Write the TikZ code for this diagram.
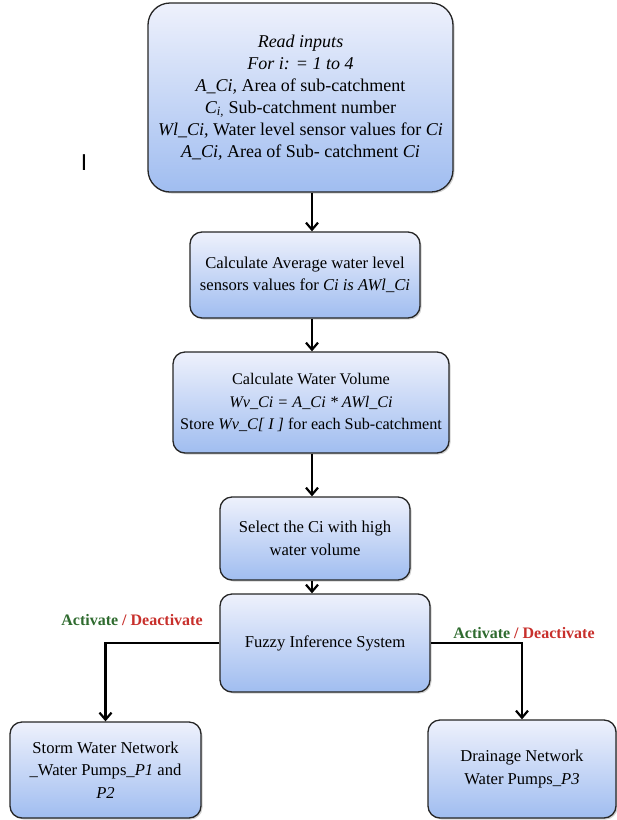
\documentclass[tikz,border=0pt]{standalone}
\usepackage{fontspec}
\setmainfont{Liberation Serif}
\newfontfamily\markfont{Liberation Sans}
\usetikzlibrary{arrows.meta,shadows}
\definecolor{topc}{HTML}{EEF1FC}
\definecolor{botc}{HTML}{A0BDF0}
\definecolor{actgreen}{HTML}{2F6B2F}
\definecolor{deactred}{HTML}{C8302C}
\tikzset{
  flowbox/.style={draw=black!85, line width=1.3pt, rounded corners=12pt,
    top color=topc, bottom color=botc, align=center, inner sep=0pt,
    font=\fontsize{16.6}{22.5}\selectfont,
    drop shadow={shadow xshift=1.5pt, shadow yshift=-1.5pt, opacity=0.3, fill=black!60}},
  arr/.style={draw=black, line width=2.2pt, -{Straight Barb[length=7pt,width=12pt,line width=2.2pt]}},
  actlabel/.style={font=\fontsize{16}{18}\selectfont\bfseries, inner sep=0pt},
}
\begin{document}
\begin{tikzpicture}[x=1pt,y=-1pt]
\useasboundingbox (0,0) rectangle (617,820);

\node[flowbox, rounded corners=22pt, minimum width=305pt, minimum height=189pt,
      font=\fontsize{18}{22}\selectfont] (read) at (300.5,97.5)
  {\textit{Read inputs}\\
   \textit{For i: = 1 to 4}\\
   \textit{A\_Ci,} Area of sub-catchment\\
   \textit{C\textsubscript{i,}} Sub-catchment number\\
   \textit{Wl\_Ci,} Water level sensor values for \textit{Ci}\\
   \textit{A\_Ci,} Area of Sub- catchment \textit{Ci}};

\node[flowbox, minimum width=230pt, minimum height=86pt] (avg) at (305,275)
  {Calculate Average water level\\
   sensors values for \textit{Ci is AWl\_Ci}};

\node[flowbox, minimum width=276pt, minimum height=101pt,
      font=\fontsize{16.2}{22.5}\selectfont] (vol) at (311,402.5)
  {Calculate Water Volume\\
   \textit{Wv\_Ci = A\_Ci * AWl\_Ci}\\
   Store \textit{Wv\_C[ I ]} for each Sub-catchment};

\node[flowbox, minimum width=190pt, minimum height=83pt] (sel) at (315,538.5)
  {Select the Ci with high\\ water volume};

\node[flowbox, minimum width=210pt, minimum height=98pt] (fis) at (325,643)
  {Fuzzy Inference System};

\node[flowbox, minimum width=191pt, minimum height=96pt] (storm) at (105.5,770)
  {Storm Water Network\\ \_Water Pumps\_\textit{P1} and\\ \textit{P2}};

\node[flowbox, minimum width=188pt, minimum height=98pt] (drain) at (522,769)
  {Drainage Network\\ Water Pumps\_\textit{P3}};

\coordinate (ax) at (312,0);
\draw[arr] (read.south -| ax) -- (avg.north -| ax);
\draw[arr] (avg.south -| ax) -- (vol.north -| ax);
\draw[arr] (vol.south -| ax) -- (sel.north -| ax);
\draw[arr] (sel.south -| ax) -- (fis.north -| ax);
\draw[arr] (fis.west) -| (storm.north);
\draw[arr] (fis.east) -| (drain.north);

\node[actlabel] (lab1) at (132,620)
  {\textcolor{actgreen}{Activate} \textcolor{deactred}{/ Deactivate}};
\node[actlabel] (lab2) at (524,633)
  {\textcolor{actgreen}{Activate} \textcolor{deactred}{/ Deactivate}};

\node[inner sep=0pt, font=\markfont\fontsize{23}{23}\selectfont] (mark) at (84,163) {I};
\end{tikzpicture}
\end{document}
